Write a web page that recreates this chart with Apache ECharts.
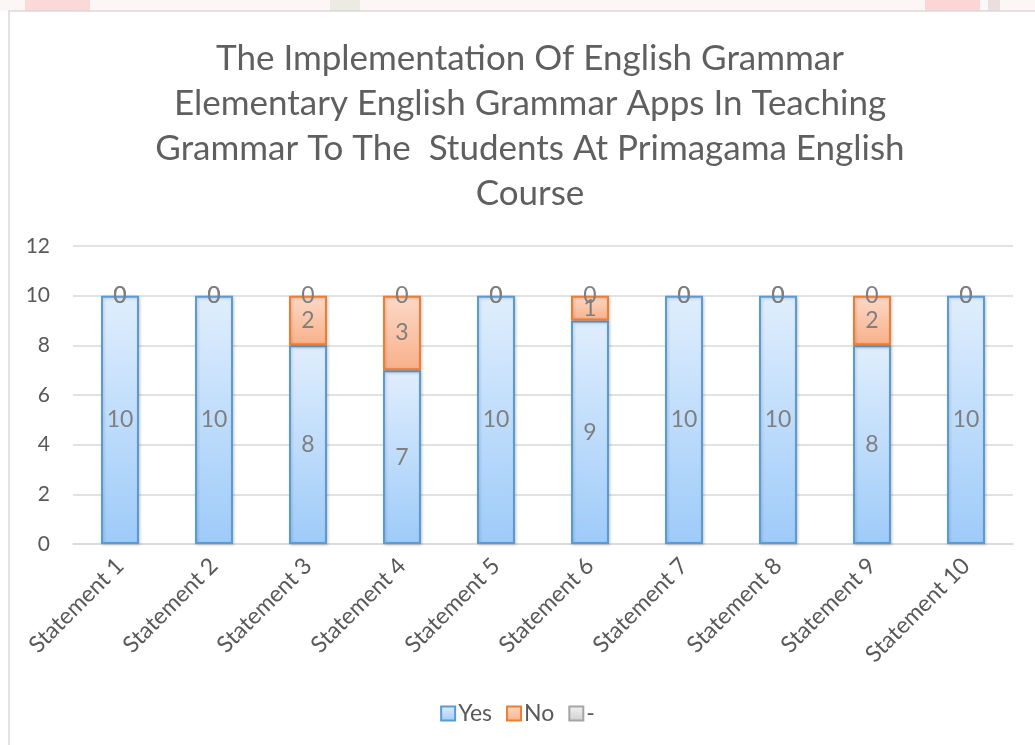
<!DOCTYPE html>
<html>
<head>
<meta charset="utf-8">
<script src="https://cdn.jsdelivr.net/npm/echarts@6/dist/echarts.min.js"></script>
<style>
  html, body { margin: 0; padding: 0; background: #fff; }
  #chart { width: 1035px; height: 745px; }
</style>
</head>
<body>
<div id="chart"></div>
<script>
var categories = ['Statement 1', 'Statement 2', 'Statement 3', 'Statement 4', 'Statement 5',
    'Statement 6', 'Statement 7', 'Statement 8', 'Statement 9', 'Statement 10'];
var yesValues = [10, 10, 8, 7, 10, 9, 10, 10, 8, 10];
var noValues = [0, 0, 2, 3, 0, 1, 0, 0, 2, 0];
var dashValues = [0, 0, 0, 0, 0, 0, 0, 0, 0, 0];
var titleText = 'The Implementation Of English Grammar\nElementary English Grammar Apps In Teaching\nGrammar To The  Students At Primagama English\nCourse';

var font = 'Lato';

function grad(top, bottom) {
    return new echarts.graphic.LinearGradient(0, 0, 0, 1, [
        {offset: 0, color: top},
        {offset: 1, color: bottom}
    ]);
}

// zero-height segments get no border, so they leave no line on top of the stack
function toItems(values) {
    return values.map(function (v) {
        return v === 0 ? {value: v, itemStyle: {borderWidth: 0, shadowBlur: 0}} : v;
    });
}

function barSeries(name, values, top, bottom, border) {
    return {
        name: name,
        type: 'bar',
        stack: 'all',
        barWidth: 38,
        data: toItems(values),
        itemStyle: {
            color: grad(top, bottom),
            borderColor: border,
            borderWidth: 2,
            shadowColor: 'rgba(0,0,0,0.18)',
            shadowBlur: 3,
            shadowOffsetX: 1,
            shadowOffsetY: 1
        },
        label: {
            show: true,
            position: 'inside',
            color: '#7f7f7f',
            fontFamily: font,
            fontSize: 23
        }
    };
}

var chart = echarts.init(document.getElementById('chart'));
chart.setOption({
    backgroundColor: '#fff',
    animation: false,
    graphic: [
        {type: 'rect', shape: {x: 0, y: 0, width: 1035, height: 11}, style: {fill: '#fdf6f6'}, z: -10},
        {type: 'rect', shape: {x: 25, y: 0, width: 65, height: 11}, style: {fill: '#fbd9d9'}, z: -9},
        {type: 'rect', shape: {x: 330, y: 0, width: 30, height: 11}, style: {fill: '#ecebe3'}, z: -9},
        {type: 'rect', shape: {x: 925, y: 0, width: 55, height: 11}, style: {fill: '#fcd5d5'}, z: -9},
        {type: 'rect', shape: {x: 988, y: 0, width: 12, height: 11}, style: {fill: '#eadede'}, z: -9},
        {type: 'rect', shape: {x: 9, y: 11, width: 1040, height: 760},
            style: {fill: '#fff', stroke: '#d9d9d9', lineWidth: 1.5}, z: -8}
    ],
    title: {
        text: titleText,
        left: 525,
        textAlign: 'center',
        top: 31,
        textStyle: {
            color: '#5f5f5f',
            fontFamily: font,
            fontWeight: 'normal',
            fontSize: 35,
            lineHeight: 45
        }
    },
    legend: {
        bottom: 15,
        left: 'center',
        itemWidth: 14,
        itemHeight: 14,
        itemGap: 14,
        icon: 'rect',
        textStyle: {color: '#595959', fontFamily: font, fontSize: 23, padding: [0, 0, 0, -2]},
        data: ['Yes', 'No', '-']
    },
    grid: {left: 73, right: 22, top: 246, bottom: 201},
    xAxis: {
        type: 'category',
        data: categories,
        axisLine: {lineStyle: {color: '#d9d9d9', width: 1.5}},
        axisTick: {show: false},
        axisLabel: {
            rotate: 45,
            interval: 0,
            margin: 18,
            color: '#595959',
            fontFamily: font,
            fontSize: 23
        }
    },
    yAxis: {
        type: 'value',
        min: 0,
        max: 12,
        interval: 2,
        axisLine: {show: false},
        axisTick: {show: false},
        axisLabel: {color: '#595959', fontFamily: font, fontSize: 21, margin: 23},
        splitLine: {lineStyle: {color: '#d9d9d9', width: 1.5}}
    },
    series: [
        barSeries('Yes', yesValues, '#e0eefd', '#9ecbf9', '#5b9bd5'),
        barSeries('No', noValues, '#fcd9c7', '#f8b08a', '#ed7d31'),
        barSeries('-', dashValues, '#f2f2f2', '#cfcfcf', '#a5a5a5')
    ]
});
</script>
</body>
</html>
